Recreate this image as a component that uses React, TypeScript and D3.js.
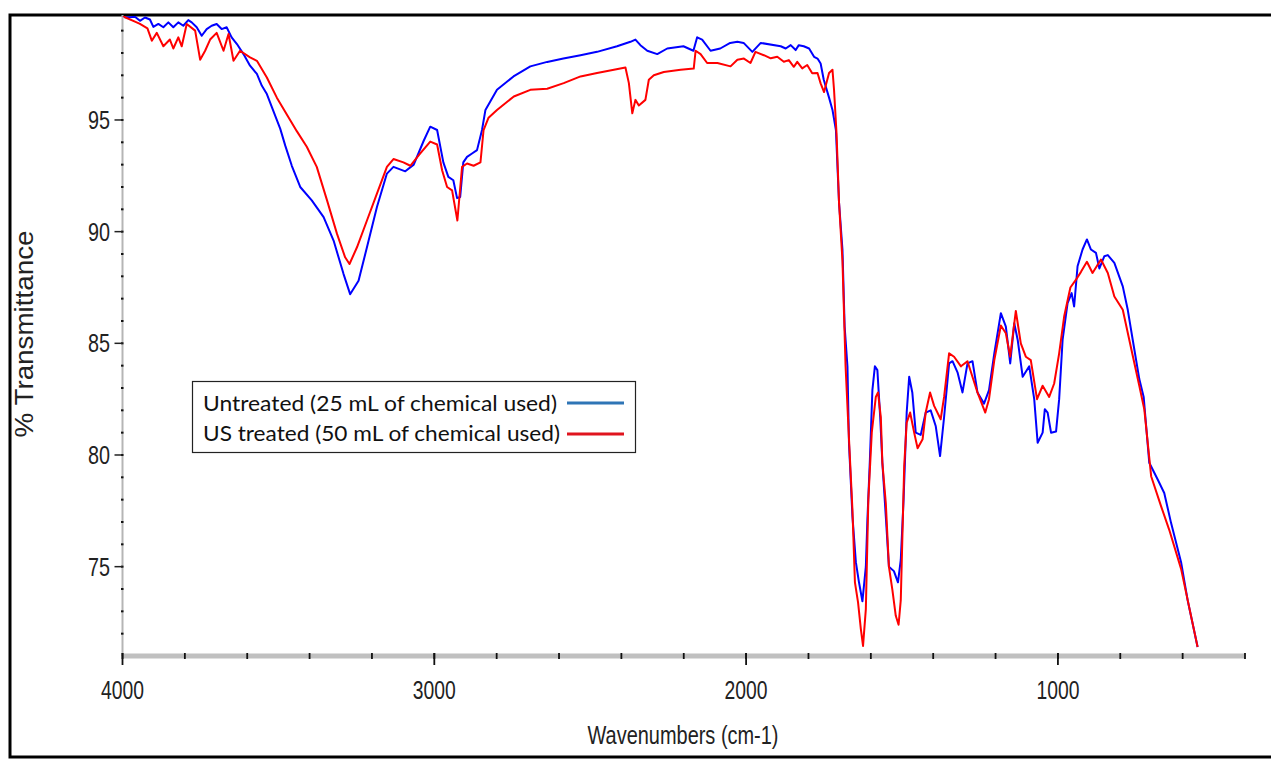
import React from "react";
import * as d3 from "d3";

// FTIR spectra: [wavenumber cm-1, % transmittance]
const untreated: [number, number][] = [
  [4000, 99.7], [3992, 99.6], [3976, 99.6], [3960, 99.62], [3944, 99.44], [3928, 99.59],
  [3912, 99.5], [3901, 99.17], [3885, 99.3], [3869, 99.15], [3853, 99.37], [3837, 99.15],
  [3821, 99.37], [3805, 99.22], [3789, 99.47], [3778, 99.37], [3762, 99.15], [3746, 98.77],
  [3730, 99.07], [3714, 99.22], [3698, 99.3], [3682, 99.07], [3666, 99.15], [3650, 98.7],
  [3633, 98.4], [3612, 97.95], [3591, 97.43], [3569, 97.06], [3553, 96.53], [3537, 96.16],
  [3516, 95.4], [3494, 94.6], [3478, 93.85], [3457, 92.95], [3430, 92.0], [3393, 91.4],
  [3355, 90.65], [3323, 89.6], [3291, 88.1], [3270, 87.2], [3243, 87.8], [3216, 89.3],
  [3184, 91.1], [3152, 92.6], [3131, 92.9], [3093, 92.7], [3066, 93.0], [3034, 94.07],
  [3013, 94.7], [2991, 94.55], [2971, 93.1], [2955, 92.45], [2939, 92.3], [2927, 91.5],
  [2917, 91.55], [2907, 93.1], [2895, 93.35], [2879, 93.5], [2863, 93.65], [2847, 94.55],
  [2836, 95.45], [2799, 96.35], [2746, 96.95], [2692, 97.4], [2638, 97.6], [2586, 97.75],
  [2531, 97.9], [2478, 98.05], [2414, 98.3], [2371, 98.5], [2355, 98.6], [2339, 98.35],
  [2317, 98.1], [2285, 97.95], [2253, 98.2], [2201, 98.3], [2169, 98.1], [2157, 98.7],
  [2141, 98.6], [2114, 98.1], [2083, 98.2], [2051, 98.45], [2028, 98.5], [2008, 98.45],
  [1980, 98.05], [1953, 98.45], [1889, 98.3], [1873, 98.2], [1857, 98.35], [1841, 98.13],
  [1831, 98.35], [1815, 98.3], [1798, 98.2], [1782, 97.83], [1771, 97.75], [1761, 97.53],
  [1751, 96.8], [1734, 96.0], [1723, 95.45], [1712, 94.55], [1702, 91.3],
  [1691, 89.2], [1684, 85.75], [1675, 83.97], [1670, 80.5], [1659, 77.25], [1648, 75.2],
  [1638, 74.3], [1627, 73.45], [1616, 75.0], [1611, 77.1], [1603, 79.8], [1595, 82.9],
  [1587, 83.97], [1579, 83.8], [1570, 81.7], [1563, 79.65], [1552, 77.25], [1542, 75.0],
  [1526, 74.8], [1513, 74.3], [1504, 75.3], [1495, 78.0], [1485, 81.9], [1477, 83.5],
  [1467, 82.8], [1456, 81.0], [1440, 80.9], [1424, 81.9], [1408, 82.0], [1392, 81.3],
  [1378, 79.95], [1365, 81.7], [1349, 84.1], [1338, 84.2], [1322, 83.7], [1306, 82.8],
  [1290, 84.1], [1274, 84.2], [1258, 82.8], [1237, 82.3], [1221, 82.9], [1204, 84.55],
  [1183, 86.35], [1167, 85.75], [1153, 84.1], [1140, 85.9], [1129, 85.15], [1113, 83.5],
  [1092, 83.97], [1076, 82.5], [1065, 80.55], [1049, 81.0], [1042, 82.05], [1033, 81.9],
  [1022, 81.0], [1006, 81.05], [996, 82.5], [985, 85.15], [969, 86.8], [956, 87.25],
  [948, 86.65], [937, 88.45], [921, 89.2], [907, 89.65], [894, 89.2], [878, 89.05],
  [867, 88.35], [851, 88.9], [840, 88.95], [819, 88.6], [792, 87.55], [776, 86.5],
  [760, 85.15], [739, 83.4], [725, 82.6], [707, 79.65], [680, 78.9], [659, 78.3],
  [637, 76.95], [605, 75.2], [584, 73.5], [552, 71.4],
];

const usTreated: [number, number][] = [
  [4000, 99.7], [3992, 99.6], [3960, 99.4], [3944, 99.3], [3920, 99.1], [3906, 98.55],
  [3890, 98.9], [3869, 98.3], [3848, 98.6], [3837, 98.2], [3821, 98.7], [3810, 98.3],
  [3794, 99.3], [3767, 99.0], [3751, 97.7], [3735, 98.1], [3719, 98.6], [3698, 98.9],
  [3676, 98.1], [3660, 98.85], [3644, 97.65], [3623, 98.1], [3591, 97.8], [3569, 97.65],
  [3537, 96.9], [3505, 96.0], [3473, 95.25], [3441, 94.5], [3409, 93.8], [3377, 92.9],
  [3344, 91.4], [3312, 89.9], [3286, 88.85], [3272, 88.55], [3248, 89.3], [3216, 90.5],
  [3184, 91.7], [3152, 92.9], [3131, 93.25], [3099, 93.1], [3077, 92.95], [3045, 93.5],
  [3013, 94.03], [2991, 93.9], [2975, 92.75], [2959, 92.0], [2943, 91.85], [2926, 90.5],
  [2911, 92.9], [2895, 93.05], [2874, 92.95], [2852, 93.1], [2842, 94.55], [2826, 95.1],
  [2799, 95.45], [2745, 96.05], [2692, 96.35], [2638, 96.4], [2585, 96.65], [2531, 96.95],
  [2478, 97.1], [2424, 97.25], [2387, 97.35], [2376, 96.65], [2365, 95.3], [2355, 95.9],
  [2344, 95.65], [2323, 95.9], [2312, 96.8], [2296, 97.0], [2264, 97.15], [2210, 97.25],
  [2168, 97.3], [2162, 98.1], [2146, 97.95], [2125, 97.55], [2092, 97.55], [2050, 97.4],
  [2028, 97.7], [2007, 97.75], [1986, 97.55], [1970, 98.05], [1943, 97.9], [1921, 97.76],
  [1900, 97.83], [1879, 97.61], [1863, 97.68], [1847, 97.38], [1836, 97.6], [1820, 97.31],
  [1804, 97.46], [1788, 97.09], [1771, 97.1], [1761, 96.64], [1750, 96.25], [1734, 97.1],
  [1723, 97.25], [1718, 96.35], [1710, 94.4], [1702, 91.3], [1691, 88.7], [1681, 83.97],
  [1670, 80.7], [1659, 77.55], [1651, 74.3], [1641, 73.4], [1632, 72.2], [1625, 71.45],
  [1616, 73.1], [1608, 78.0], [1597, 81.0], [1584, 82.6], [1577, 82.8], [1568, 81.7],
  [1563, 79.65], [1552, 77.85], [1542, 75.0], [1531, 73.97], [1520, 72.8], [1511, 72.4],
  [1504, 73.5], [1493, 79.5], [1485, 81.45], [1474, 81.9], [1461, 81.0], [1450, 80.3],
  [1434, 80.7], [1424, 81.9], [1410, 82.8], [1397, 82.2], [1376, 81.6], [1365, 82.6],
  [1349, 84.55], [1333, 84.4], [1311, 83.97], [1290, 84.2], [1258, 82.8], [1233, 81.9],
  [1221, 82.5], [1204, 84.25], [1183, 85.8], [1167, 85.45], [1153, 84.4], [1135, 86.45],
  [1119, 85.0], [1103, 84.4], [1087, 84.25], [1067, 82.5], [1049, 83.1], [1028, 82.6],
  [1012, 83.2], [996, 84.55], [980, 86.2], [960, 87.5], [942, 87.85], [926, 88.2],
  [907, 88.65], [889, 88.15], [862, 88.75], [840, 88.15], [819, 87.1], [792, 86.5],
  [771, 85.15], [739, 83.1], [723, 82.05], [701, 79.05], [669, 77.7], [643, 76.65],
  [605, 74.9], [552, 71.4],
];

const seriesNames = ["Untreated (25 mL of chemical used)", "US treated (50 mL of chemical used)"];
const xMajorTicks = [4000, 3000, 2000, 1000];
const xMinorTicks = d3.range(4000, 399, -200);
const yMajorTicks = [75, 80, 85, 90, 95];
const yMinorTicks = d3.range(72, 100, 1);

const W = 1271;
const H = 760;
const left = 122.5;
const right = 1245;
const top = 15;
const bottom = 656;

const tickFont = "'Liberation Sans Narrow', 'Arial Narrow', 'Liberation Sans', Arial, sans-serif";

export default function App() {
  const x = d3.scaleLinear().domain([4000, 400]).range([left, right]);
  const y = d3.scaleLinear().domain([71, 99.7]).range([bottom, top]);
  const line = d3
    .line<[number, number]>()
    .x((d) => x(d[0]))
    .y((d) => y(d[1]));

  return (
    <svg
      width={W}
      height={H}
      style={{ position: "absolute", left: 0, top: 0, background: "#fff" }}
    >
      <defs>
        <clipPath id="plot">
          <rect x={left} y={top + 1} width={right - left} height={bottom - top} />
        </clipPath>
      </defs>

      {/* outer frame */}
      <rect x={10} y={15} width={W + 20} height={742} fill="none" stroke="#000" strokeWidth={3} />

      {/* y axis */}
      <line x1={left} x2={left} y1={top} y2={bottom} stroke="#b5b5b5" strokeWidth={2} />
      {yMinorTicks.map((v) => (
        <line key={"ym" + v} x1={left - 1.5} x2={left + 1} y1={y(v)} y2={y(v)} stroke="#111" strokeWidth={2} />
      ))}
      {yMajorTicks.map((v) => (
        <g key={"y" + v}>
          <line x1={left - 8} x2={left} y1={y(v)} y2={y(v)} stroke="#222" strokeWidth={1.5} />
          <text
            x={110}
            y={y(v) + 9}
            textAnchor="end"
            fontFamily={tickFont}
            fontSize={26}
            fill="#222"
            textLength={22}
            lengthAdjust="spacingAndGlyphs"
          >
            {v}
          </text>
        </g>
      ))}

      {/* x axis */}
      <line x1={left} x2={right} y1={bottom} y2={bottom} stroke="#c0c0c0" strokeWidth={5} />
      {xMinorTicks.map((v) => (
        <line key={"xm" + v} x1={x(v)} x2={x(v)} y1={bottom - 3} y2={bottom + 3} stroke="#111" strokeWidth={1.8} />
      ))}
      {xMajorTicks.map((v) => (
        <g key={"x" + v}>
          <line x1={x(v)} x2={x(v)} y1={bottom - 3} y2={bottom + 9} stroke="#111" strokeWidth={1.8} />
          <text
            x={x(v)}
            y={699}
            textAnchor="middle"
            fontFamily={tickFont}
            fontSize={26}
            fill="#222"
            textLength={43}
            lengthAdjust="spacingAndGlyphs"
          >
            {v}
          </text>
        </g>
      ))}

      {/* axis titles */}
      <text
        x={683}
        y={744}
        textAnchor="middle"
        fontFamily={tickFont}
        fontSize={25}
        fill="#222"
        textLength={191}
        lengthAdjust="spacingAndGlyphs"
      >
        Wavenumbers (cm-1)
      </text>
      <text
        transform="translate(33,334) rotate(-90)"
        textAnchor="middle"
        fontFamily={tickFont}
        fontSize={25}
        fill="#222"
        textLength={207}
        lengthAdjust="spacingAndGlyphs"
      >
        % Transmittance
      </text>

      {/* spectra */}
      <g clipPath="url(#plot)" fill="none" strokeWidth={2} strokeLinejoin="round">
        <path d={line(untreated) ?? ""} stroke="#0000ff" />
        <path d={line(usTreated) ?? ""} stroke="#ff0000" />
      </g>

      {/* legend */}
      <g>
        <rect x={192.5} y={381.5} width={443} height={71} fill="#fff" stroke="#222" strokeWidth={1.2} />
        <text
          x={203}
          y={411}
          fontFamily="Lato, 'Open Sans', sans-serif"
          fontSize={21}
          fill="#111"
          textLength={354}
          lengthAdjust="spacingAndGlyphs"
        >
          {seriesNames[0]}
        </text>
        <line x1={567} x2={624} y1={403} y2={403} stroke="#2e75b6" strokeWidth={3} />
        <text
          x={203}
          y={441}
          fontFamily="Lato, 'Open Sans', sans-serif"
          fontSize={21}
          fill="#111"
          textLength={357}
          lengthAdjust="spacingAndGlyphs"
        >
          {seriesNames[1]}
        </text>
        <line x1={567} x2={624} y1={434} y2={434} stroke="#e0141e" strokeWidth={3} />
      </g>
    </svg>
  );
}
